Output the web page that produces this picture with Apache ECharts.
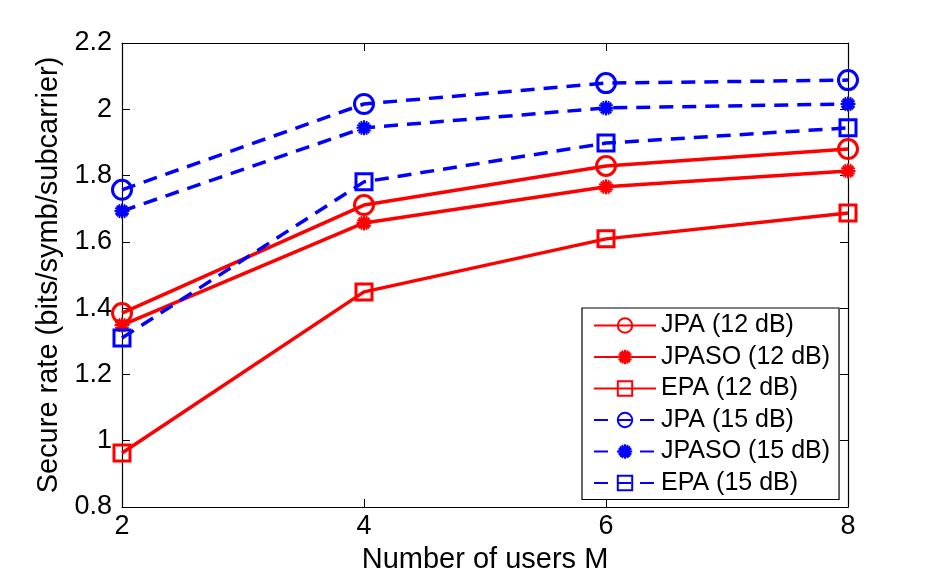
<!DOCTYPE html>
<html>
<head>
<meta charset="utf-8">
<script src="https://cdn.jsdelivr.net/npm/echarts@6/dist/echarts.min.js"></script>
<style>
html,body{margin:0;padding:0;background:#fff;}
#chart{width:938px;height:580px;}
</style>
</head>
<body>
<div id="chart"></div>
<script>
var users = [2, 4, 6, 8];
var jpa12 = [1.385, 1.711, 1.829, 1.880];
var jpaso12 = [1.349, 1.657, 1.766, 1.814];
var epa12 = [0.963, 1.449, 1.609, 1.687];
var jpa15 = [1.757, 2.016, 2.079, 2.088];
var jpaso15 = [1.693, 1.944, 2.004, 2.016];
var epa15 = [1.310, 1.781, 1.898, 1.944];
var seriesNames = ['JPA (12 dB)', 'JPASO (12 dB)', 'EPA (12 dB)', 'JPA (15 dB)', 'JPASO (15 dB)', 'EPA (15 dB)'];

var FONT = 'Liberation Sans, Arial, Helvetica, sans-serif';
var RED = '#ff0000', BLUE = '#0000ff';
var starPath = 'path://M0,-10L0,10M-10,0L10,0M-7,-7L7,7M-7,7L7,-7M-4,-9L4,9M4,-9L-4,9M-9,-4L9,4M-9,4L9,-4';
var circlePath = 'path://M10,0A10,10,0,1,1,-10,0A10,10,0,1,1,10,0Z';
var squarePath = 'path://M-10,-10L10,-10L10,10L-10,10Z';

function pts(arr) { return users.map(function (u, i) { return [u, arr[i]]; }); }

function mk(name, data, color, dashed, sym, size, bw) {
  return {
    name: name,
    type: 'line',
    data: pts(data),
    symbol: sym,
    symbolSize: size,
    showAllSymbol: true,
    lineStyle: { color: color, width: 3.5, type: dashed ? [14, 9] : 'solid' },
    itemStyle: { color: 'rgba(0,0,0,0)', borderColor: color, borderWidth: bw },
    emphasis: { disabled: true },
    animation: false,
    z: 3
  };
}

var chart = echarts.init(document.getElementById('chart'), null, { renderer: 'canvas' });
var axisLine = { show: true, lineStyle: { color: '#000', width: 1.2 } };
var tick = { show: true, inside: true, length: 8, lineStyle: { color: '#000', width: 1 } };
var option = {
  backgroundColor: '#fff',
  animation: false,
  grid: { left: 122, right: 90, top: 43, bottom: 73, containLabel: false },
  legend: {
    orient: 'vertical',
    left: 582, top: 308,
    padding: [5, 9, 4, 11],
    itemGap: 6.5,
    itemWidth: 62, itemHeight: 18,
    borderColor: '#000', borderWidth: 1.2, borderRadius: 0,
    backgroundColor: '#fff',
    textStyle: { fontFamily: FONT, fontSize: 25, color: '#000' },
    data: seriesNames
  },
  xAxis: [{
    type: 'value', min: 2, max: 8, interval: 2,
    name: 'Number of users M', nameLocation: 'middle', nameGap: 38,
    nameTextStyle: { fontFamily: FONT, fontSize: 29, color: '#000' },
    axisLine: axisLine,
    axisTick: tick,
    axisLabel: { fontFamily: FONT, fontSize: 27, color: '#000', margin: 6 },
    splitLine: { show: false }
  }, {
    type: 'value', min: 2, max: 8, interval: 2, position: 'top',
    axisLine: axisLine,
    axisTick: tick,
    axisLabel: { show: false }, splitLine: { show: false }
  }],
  yAxis: [{
    type: 'value', min: 0.8, max: 2.2, interval: 0.2,
    name: 'Secure rate (bits/symb/subcarrier)', nameLocation: 'middle', nameGap: 59,
    nameTextStyle: { fontFamily: FONT, fontSize: 29, color: '#000' },
    axisLine: axisLine,
    axisTick: tick,
    axisLabel: { fontFamily: FONT, fontSize: 27, color: '#000', margin: 10,
      formatter: function (v) { return String(Math.round(v * 10) / 10); } },
    splitLine: { show: false }
  }, {
    type: 'value', min: 0.8, max: 2.2, interval: 0.2, position: 'right',
    axisLine: axisLine,
    axisTick: tick,
    axisLabel: { show: false }, splitLine: { show: false }
  }],
  series: [
    mk(seriesNames[0], jpa12, RED, false, circlePath, 19, 3),
    mk(seriesNames[1], jpaso12, RED, false, starPath, 15, 2),
    mk(seriesNames[2], epa12, RED, false, squarePath, 16, 3),
    mk(seriesNames[3], jpa15, BLUE, true, circlePath, 19, 3),
    mk(seriesNames[4], jpaso15, BLUE, true, starPath, 15, 2),
    mk(seriesNames[5], epa15, BLUE, true, squarePath, 16, 3)
  ]
};
chart.setOption(option);
</script>
</body>
</html>
